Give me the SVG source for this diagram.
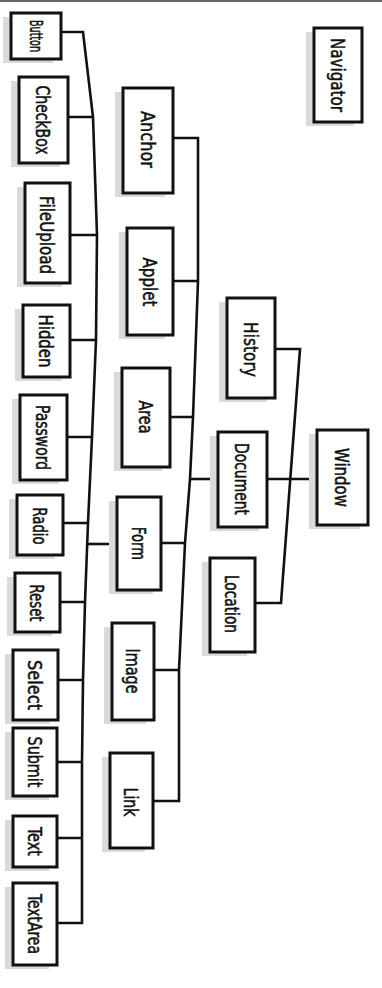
<svg xmlns="http://www.w3.org/2000/svg" width="382" height="988" viewBox="0 0 382 988">
<style>
.sh{fill:#dadada;stroke:none}
.bx{fill:#fff;stroke:#111;stroke-width:3}
.lb{font-family:"DejaVu Sans Condensed","DejaVu Sans","Liberation Sans",sans-serif;font-size:20px;font-weight:normal;fill:#111;stroke:#111;stroke-width:0.5;text-anchor:middle}
.cn{fill:none;stroke:#111;stroke-width:2.6;stroke-linejoin:miter}
</style>
<rect x="0" y="0" width="382" height="988" fill="#fff"/>
<rect x="0" y="0" width="382" height="2" fill="#666"/>
<g id="connectors">
<path class="cn" d="M61,32 H83 L93,117 L97,235 L96,340 L92,437 L88,523 L85,602 L83,680 L82,762 L82,838 L82,923 H57"/>
<path class="cn" d="M68,117 H93 M70,235 H97 M70,340 H96 M67,437 H92 M63,523 H88 M60,602 H85 M58,680 H83 M57,762 H82 M57,838 H82"/>
<path class="cn" d="M87,544 H117"/>
<path class="cn" d="M173,138 H198 L198,281 L193,417 L190,479 L185,543 L179,670 L179,801 H153"/>
<path class="cn" d="M173,281 H198 M170,417 H193 M161,543 H185 M154,670 H179"/>
<path class="cn" d="M190,479 H218"/>
<path class="cn" d="M275,349 H300 L281,603 H255"/>
<path class="cn" d="M267,479 H317"/>
</g>
<g id="n-button"><rect class="sh" x="3" y="17" width="50" height="46"/><rect class="bx" x="11" y="13" width="50" height="46"/><text class="lb" style="font-size:18px" transform="translate(36,36) rotate(90)" y="6.5" textLength="32" lengthAdjust="spacingAndGlyphs">Button</text></g>
<g id="n-checkbox"><rect class="sh" x="11" y="81" width="49" height="86"/><rect class="bx" x="19" y="77" width="49" height="86"/><text class="lb" transform="translate(43.5,120) rotate(90)" y="7.3" textLength="69" lengthAdjust="spacingAndGlyphs">CheckBox</text></g>
<g id="n-fileupload"><rect class="sh" x="17" y="187" width="45" height="100"/><rect class="bx" x="25" y="183" width="45" height="100"/><text class="lb" transform="translate(47.5,235) rotate(90)" y="7.3" textLength="78" lengthAdjust="spacingAndGlyphs">FileUpload</text></g>
<g id="n-hidden"><rect class="sh" x="15" y="309" width="47" height="72"/><rect class="bx" x="23" y="305" width="47" height="72"/><text class="lb" transform="translate(46.5,341) rotate(90)" y="7.3" textLength="53" lengthAdjust="spacingAndGlyphs">Hidden</text></g>
<g id="n-password"><rect class="sh" x="12" y="399" width="47" height="85"/><rect class="bx" x="20" y="395" width="47" height="85"/><text class="lb" transform="translate(43.5,437.5) rotate(90)" y="7.3" textLength="65" lengthAdjust="spacingAndGlyphs">Password</text></g>
<g id="n-radio"><rect class="sh" x="9" y="499" width="46" height="60"/><rect class="bx" x="17" y="495" width="46" height="60"/><text class="lb" transform="translate(40,526) rotate(90)" y="7.3" textLength="37" lengthAdjust="spacingAndGlyphs">Radio</text></g>
<g id="n-reset"><rect class="sh" x="7" y="577" width="45" height="59"/><rect class="bx" x="15" y="573" width="45" height="59"/><text class="lb" transform="translate(37.5,603) rotate(90)" y="7.3" textLength="37" lengthAdjust="spacingAndGlyphs">Reset</text></g>
<g id="n-select"><rect class="sh" x="5" y="654" width="45" height="70"/><rect class="bx" x="13" y="650" width="45" height="70"/><text class="lb" transform="translate(35.5,685) rotate(90)" y="7.3" textLength="50" lengthAdjust="spacingAndGlyphs">Select</text></g>
<g id="n-submit"><rect class="sh" x="5" y="732" width="44" height="68"/><rect class="bx" x="13" y="728" width="44" height="68"/><text class="lb" transform="translate(35,762) rotate(90)" y="7.3" textLength="51" lengthAdjust="spacingAndGlyphs">Submit</text></g>
<g id="n-text"><rect class="sh" x="5" y="820" width="44" height="51"/><rect class="bx" x="13" y="816" width="44" height="51"/><text class="lb" transform="translate(35,841.5) rotate(90)" y="7.3" textLength="29" lengthAdjust="spacingAndGlyphs">Text</text></g>
<g id="n-textarea"><rect class="sh" x="5" y="887" width="44" height="82"/><rect class="bx" x="13" y="883" width="44" height="82"/><text class="lb" transform="translate(35,924) rotate(90)" y="7.3" textLength="60" lengthAdjust="spacingAndGlyphs">TextArea</text></g>
<g id="n-anchor"><rect class="sh" x="115" y="92" width="50" height="105"/><rect class="bx" x="123" y="88" width="50" height="105"/><text class="lb" transform="translate(148,139.5) rotate(90)" y="7.3" textLength="57" lengthAdjust="spacingAndGlyphs">Anchor</text></g>
<g id="n-applet"><rect class="sh" x="119" y="232" width="46" height="107"/><rect class="bx" x="127" y="228" width="46" height="107"/><text class="lb" transform="translate(150,282) rotate(90)" y="7.3" textLength="49" lengthAdjust="spacingAndGlyphs">Applet</text></g>
<g id="n-area"><rect class="sh" x="114" y="372" width="48" height="99"/><rect class="bx" x="122" y="368" width="48" height="99"/><text class="lb" transform="translate(146,417) rotate(90)" y="7.3" textLength="33" lengthAdjust="spacingAndGlyphs">Area</text></g>
<g id="n-form"><rect class="sh" x="109" y="501" width="44" height="93"/><rect class="bx" x="117" y="497" width="44" height="93"/><text class="lb" transform="translate(139,543.5) rotate(90)" y="7.3" textLength="33" lengthAdjust="spacingAndGlyphs">Form</text></g>
<g id="n-image"><rect class="sh" x="104" y="627" width="42" height="97"/><rect class="bx" x="112" y="623" width="42" height="97"/><text class="lb" transform="translate(133,671) rotate(90)" y="7.3" textLength="45" lengthAdjust="spacingAndGlyphs">Image</text></g>
<g id="n-link"><rect class="sh" x="102" y="757" width="43" height="95"/><rect class="bx" x="110" y="753" width="43" height="95"/><text class="lb" transform="translate(131.5,802) rotate(90)" y="7.3" textLength="29" lengthAdjust="spacingAndGlyphs">Link</text></g>
<g id="n-history"><rect class="sh" x="219" y="302" width="48" height="100"/><rect class="bx" x="227" y="298" width="48" height="100"/><text class="lb" transform="translate(251,349.5) rotate(90)" y="7.3" textLength="55" lengthAdjust="spacingAndGlyphs">History</text></g>
<g id="n-document"><rect class="sh" x="210" y="436" width="49" height="95"/><rect class="bx" x="218" y="432" width="49" height="95"/><text class="lb" transform="translate(242.5,479) rotate(90)" y="7.3" textLength="72" lengthAdjust="spacingAndGlyphs">Document</text></g>
<g id="n-location"><rect class="sh" x="202" y="562" width="45" height="94"/><rect class="bx" x="210" y="558" width="45" height="94"/><text class="lb" transform="translate(232.5,604) rotate(90)" y="7.3" textLength="58" lengthAdjust="spacingAndGlyphs">Location</text></g>
<g id="n-window"><rect class="sh" x="309" y="434" width="51" height="95"/><rect class="bx" x="317" y="430" width="51" height="95"/><text class="lb" transform="translate(342.5,477.5) rotate(90)" y="7.3" textLength="59" lengthAdjust="spacingAndGlyphs">Window</text></g>
<g id="n-navigator"><rect class="sh" x="306" y="32" width="48" height="94"/><rect class="bx" x="314" y="28" width="48" height="94"/><text class="lb" transform="translate(338,75) rotate(90)" y="7.3" textLength="74" lengthAdjust="spacingAndGlyphs">Navigator</text></g>
</svg>
